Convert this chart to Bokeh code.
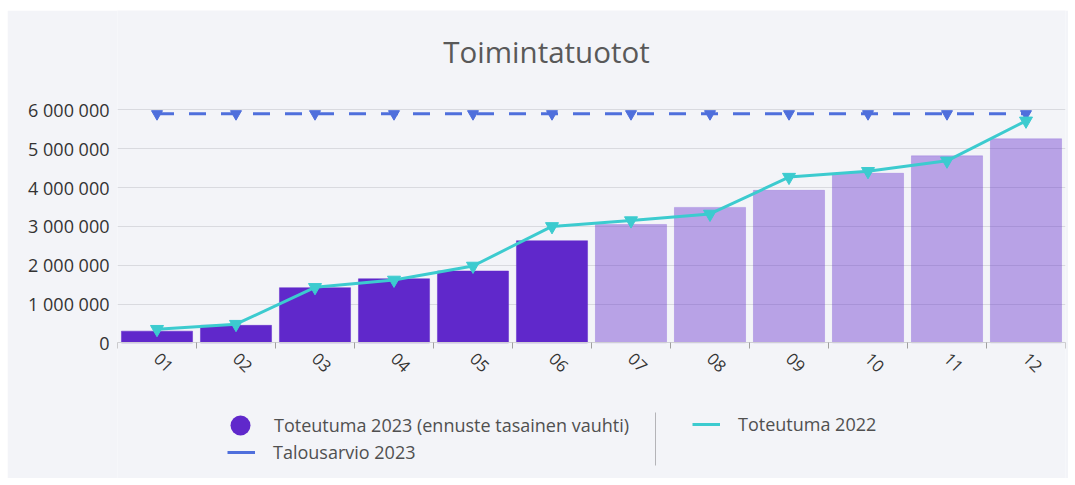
import math
from bokeh.plotting import figure
from bokeh.models import (Range1d, FixedTicker, Legend, LegendItem,
                          ColumnDataSource, BoxAnnotation, Label)
from bokeh.embed import file_html
from bokeh.resources import INLINE

# ---------------- data ----------------
otsikko = "Toimintatuotot"
kuukaudet = ["01", "02", "03", "04", "05", "06", "07", "08", "09", "10", "11", "12"]
toteutuma_2023 = [300000, 450000, 1420000, 1650000, 1850000, 2630000,
                  3050000, 3490000, 3930000, 4370000, 4820000, 5260000]
ennuste = [False, False, False, False, False, False,
           True, True, True, True, True, True]
toteutuma_2022 = [350000, 480000, 1430000, 1620000, 1980000, 3000000,
                  3150000, 3320000, 4270000, 4420000, 4690000, 5720000]
talousarvio_2023 = [5900000] * 12
y_ticks = [0, 1000000, 2000000, 3000000, 4000000, 5000000, 6000000]
y_tick_labels = ["0", "1 000 000", "2 000 000", "3 000 000",
                 "4 000 000", "5 000 000", "6 000 000"]

# ---------------- style ----------------
BG = "#f3f4f8"
DARK = "#6028cb"
CYAN = "#3ccbcf"
BLUE = "#4f6fdc"
FONT = "Open Sans"

x_pos = [i + 1 for i in range(len(kuukaudet))]

# the frame spans the full height so that title and legend (drawn inside it) are not
# clipped; the x axis is pinned to y = 0
p = figure(width=1061, height=468, output_backend="svg", toolbar_location=None,
           x_range=Range1d(0.5, 12.5), y_range=Range1d(-3497000, 8564000),
           min_border_left=110, min_border_right=3, min_border_top=0,
           min_border_bottom=0)
p.margin = (10, 0, 0, 7)
p.background_fill_color = BG
p.border_fill_color = BG
p.outline_line_color = None

# title
p.add_layout(Label(x=539, y=41, x_units="canvas", y_units="canvas", text=otsikko,
                   text_align="center", text_baseline="alphabetic",
                   text_font=FONT, text_font_size="29.5px",
                   text_color="#595959"))

# grid
p.xgrid.grid_line_color = None
p.ygrid.ticker = FixedTicker(ticks=y_ticks)
p.ygrid.grid_line_color = "#d9dadf"
p.ygrid.grid_line_width = 1

# bars
bar_src = ColumnDataSource(dict(
    x=x_pos, top=toteutuma_2023,
    alpha=[0.4 if e else 1.0 for e in ennuste],
))
p.vbar(x="x", top="top", bottom=0, width=0.9, source=bar_src, fill_color=DARK,
       fill_alpha="alpha", line_color=DARK, line_alpha="alpha", line_width=0.5)

# budget
p.line(x_pos, talousarvio_2023, line_color=BLUE, line_width=3, line_dash="17 15")
p.scatter(x_pos, talousarvio_2023, marker="inverted_triangle", size=11,
          fill_color=BLUE, line_color=BLUE)

# 2022
p.line(x_pos, toteutuma_2022, line_color=CYAN, line_width=3)
p.scatter(x_pos, toteutuma_2022, marker="inverted_triangle", size=13,
          fill_color=CYAN, line_color=CYAN)

# axes
xa = p.xaxis[0]
xa.fixed_location = 0
xa.ticker = FixedTicker(ticks=x_pos, minor_ticks=[i + 0.5 for i in range(13)])
xa.major_label_overrides = {x: k for x, k in zip(x_pos, kuukaudet)}
xa.major_label_orientation = -math.pi / 4
xa.major_tick_line_color = None
xa.minor_tick_line_color = "#a0a0a0"
xa.minor_tick_in = 0
xa.minor_tick_out = 6
xa.axis_line_color = "#cfcfd4"
xa.major_label_text_font = FONT
xa.major_label_text_font_size = "16.5px"
xa.major_label_text_color = "#333333"
xa.major_label_standoff = 7

ya = p.yaxis[0]
ya.ticker = FixedTicker(ticks=y_ticks)
ya.major_label_overrides = {t: l for t, l in zip(y_ticks, y_tick_labels)}
ya.axis_line_color = None
ya.major_tick_line_color = None
ya.minor_tick_line_color = None
ya.major_tick_out = 0
ya.major_label_text_font = FONT
ya.major_label_text_font_size = "18px"
ya.major_label_text_color = "#333333"
ya.major_label_standoff = 8

# legend-only proxies (hidden renderers; they only lend their style to the legend glyphs)
leg_circle = p.scatter(x=x_pos[:1], y=toteutuma_2023[:1], marker="circle", size=10,
                       fill_color=DARK, line_color=None, visible=False)
leg_budget = p.line(x=x_pos[:2], y=talousarvio_2023[:2], line_color=BLUE,
                    line_width=3, visible=False)
leg_2022 = p.line(x=x_pos[:2], y=toteutuma_2022[:2], line_color=CYAN,
                  line_width=3, visible=False)


def make_legend(label, renderer, loc, gw, gh, standoff):
    lg = Legend(items=[LegendItem(label=label, renderers=[renderer])],
                location=loc, glyph_width=gw, glyph_height=gh,
                label_standoff=standoff, padding=0, margin=0, spacing=0,
                border_line_color=None, background_fill_alpha=0,
                label_text_font=FONT, label_text_font_size="18px",
                label_text_color="#505050", label_height=20,
                click_policy="none")
    p.add_layout(lg, "center")


make_legend("Toteutuma 2023 (ennuste tasainen vauhti)", leg_circle, (98, 28), 50, 50, 9)
make_legend("Talousarvio 2023", leg_budget, (110, 14), 28, 22, 18)
make_legend("Toteutuma 2022", leg_2022, (575, 42), 28, 22, 18)

# separator between legend columns
p.add_layout(BoxAnnotation(left=647.5, right=648.5, top=402, bottom=455,
                           left_units="canvas", right_units="canvas",
                           top_units="canvas", bottom_units="canvas",
                           fill_color="#b4b4b8", fill_alpha=1,
                           line_color=None))

open("out.html", "w").write(file_html(p, INLINE))
